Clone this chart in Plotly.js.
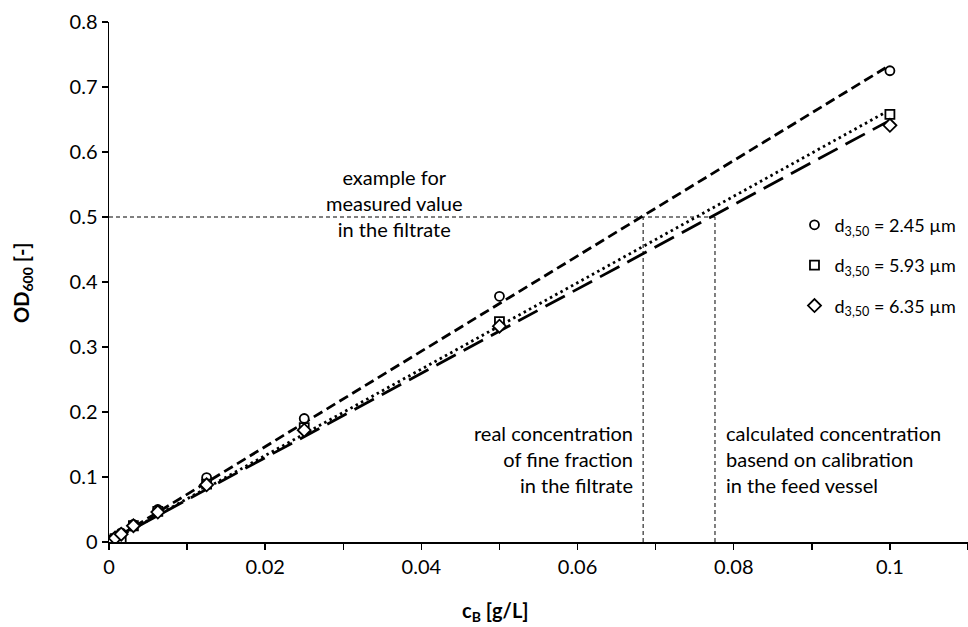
<!DOCTYPE html>
<html>
<head>
<meta charset="utf-8">
<script src="https://cdn.plot.ly/plotly-3.0.1.min.js"></script>
<style>html,body{margin:0;padding:0;background:#fff;}#chart{width:968px;height:627px;}</style>
</head>
<body>
<div id="chart"></div>
<script>
// concentration c_B [g/L]
const conc = [0, 0.00078125, 0.0015625, 0.003125, 0.00625, 0.0125, 0.025, 0.05, 0.1];
// OD600 per particle size
const od_245 = [0, 0.007, 0.014, 0.027, 0.050, 0.099, 0.190, 0.378, 0.725];
const od_593 = [0, 0.005, 0.004, 0.025, 0.047, 0.089, 0.176, 0.339, 0.658];
const od_635 = [0, 0.006, 0.012, 0.025, 0.046, 0.088, 0.172, 0.332, 0.641];
const seriesNames = ['d<sub>3,50</sub> = 2.45 µm', 'd<sub>3,50</sub> = 5.93 µm', 'd<sub>3,50</sub> = 6.35 µm'];
// example reading
const measuredOD = 0.5;
const realConc = 0.0684;
const calcConc = 0.0776;
const xTickVals = [0, 0.01, 0.02, 0.03, 0.04, 0.05, 0.06, 0.07, 0.08, 0.09, 0.1, 0.11];
const xTickText = ['0', '', '0.02', '', '0.04', '', '0.06', '', '0.08', '', '0.1', ''];

function slopeThroughOrigin(x, y) {
  let sxy = 0, sxx = 0;
  for (let i = 0; i < x.length; i++) { sxy += x[i] * y[i]; sxx += x[i] * x[i]; }
  return sxy / sxx;
}
const xMax = Math.max(...conc);
function fitTrace(y, dash) {
  const s = slopeThroughOrigin(conc, y);
  return {x: [0, xMax], y: [0, s * xMax], mode: 'lines', showlegend: false, hoverinfo: 'skip',
          line: {color: '#000', width: 2.8, dash: dash}};
}
const FONT = 'Lato, "Open Sans", sans-serif';
const symbols = ['circle', 'square', 'diamond'];
const ys = [od_245, od_593, od_635];
const traces = [
  fitTrace(od_245, '10px,5px'),
  fitTrace(od_593, '2.5px,3.5px'),
  fitTrace(od_635, '22px,9px'),
  // guide lines
  {x: [0, calcConc], y: [measuredOD, measuredOD], mode: 'lines', showlegend: false, hoverinfo: 'skip',
   line: {color: '#000', width: 1, dash: '4px,3px'}},
  {x: [realConc, realConc], y: [0, measuredOD], mode: 'lines', showlegend: false, hoverinfo: 'skip',
   line: {color: '#000', width: 1, dash: '4px,3px'}},
  {x: [calcConc, calcConc], y: [0, measuredOD], mode: 'lines', showlegend: false, hoverinfo: 'skip',
   line: {color: '#000', width: 1, dash: '4px,3px'}}
];
for (let i = 0; i < 3; i++) {
  traces.push({x: conc, y: ys[i], mode: 'markers', name: seriesNames[i], legendgroup: 'g' + i,
    marker: {symbol: symbols[i], size: i === 2 ? 10 : 9, color: '#fff', line: {color: '#000', width: 1.8}}});
}
const annFont = {family: FONT, size: 20, color: '#000'};
const layout = {
  width: 968, height: 627,
  margin: {l: 109, r: 0, t: 22, b: 85},
  paper_bgcolor: '#fff', plot_bgcolor: '#fff',
  font: {family: FONT, size: 20, color: '#000'},
  showlegend: true,
  legend: {x: 0.798, y: 0.645, xanchor: 'left', yanchor: 'top', traceorder: 'grouped', tracegroupgap: 14,
           font: {family: FONT, size: 18, color: '#000'}, bgcolor: 'rgba(0,0,0,0)'},
  xaxis: {range: [0, 0.11], tickvals: xTickVals, ticktext: xTickText, ticks: 'outside', ticklen: 6,
          tickwidth: 1.5, tickcolor: '#000', showline: true, linecolor: '#000', linewidth: 1.5,
          showgrid: false, zeroline: false, tickfont: {family: FONT, size: 20}},
  yaxis: {range: [0, 0.8], dtick: 0.1, ticks: 'outside', ticklen: 6, tickwidth: 1.5, tickcolor: '#000',
          showline: true, linecolor: '#000', linewidth: 1.5, showgrid: false, zeroline: false,
          tickfont: {family: FONT, size: 20}},
  annotations: [
    {x: 0.4505, y: -0.134, xref: 'paper', yref: 'paper', text: '<b>c<sub>B</sub> [g/L]</b>',
     showarrow: false, font: {family: FONT, size: 20}, xanchor: 'center', yanchor: 'middle'},
    {x: -0.1013, y: 0.5, xref: 'paper', yref: 'paper', text: '<b>OD<sub>600</sub> [-]</b>', textangle: -90,
     showarrow: false, font: {family: FONT, size: 20}, xanchor: 'center', yanchor: 'middle'},
    {x: 0.0366, y: measuredOD, xref: 'x', yref: 'y', text: 'example for<br>measured value<br>in the filtrate',
     showarrow: false, font: annFont, align: 'center', xanchor: 'center', yanchor: 'middle', yshift: 14},
    {x: realConc, y: 0.1, xref: 'x', yref: 'y', text: 'real concentration<br>of fine fraction<br>in the filtrate',
     showarrow: false, font: annFont, align: 'right', xanchor: 'right', yanchor: 'middle', xshift: -8, yshift: 18},
    {x: calcConc, y: 0.1, xref: 'x', yref: 'y', text: 'calculated concentration<br>basend on calibration<br>in the feed vessel',
     showarrow: false, font: annFont, align: 'left', xanchor: 'left', yanchor: 'middle', xshift: 9, yshift: 18}
  ]
};
Plotly.newPlot('chart', traces, layout, {displayModeBar: false, staticPlot: true});
</script>
</body>
</html>
